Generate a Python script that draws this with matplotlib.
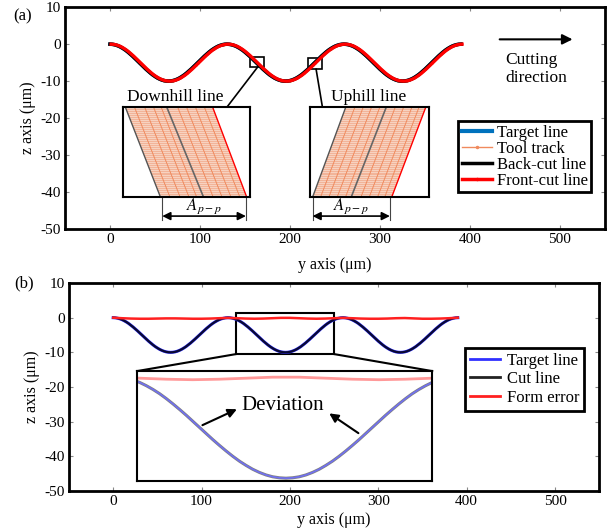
import numpy as np
import matplotlib.pyplot as plt
from matplotlib.patches import Rectangle, Polygon
from matplotlib.lines import Line2D

plt.rcParams['font.family'] = ['Liberation Serif', 'DejaVu Serif']
plt.rcParams['mathtext.fontset'] = 'stix'
plt.rcParams['axes.unicode_minus'] = False

# profile: z (um) every 2.5 um over half a period (0..65 um)
half_period = [0.0, -0.04, -0.15, -0.33, -0.57, -0.89, -1.26, -1.68, -2.16,
               -2.68, -3.23, -3.80, -4.40, -5.0, -5.60, -6.20, -6.77, -7.32,
               -7.84, -8.32, -8.74, -9.12, -9.43, -9.68, -9.86, -9.96, -10.0]
period = half_period + half_period[-2::-1]
profile_z = np.array(period + period[1:] + period[1:])
profile_y = np.arange(len(profile_z)) * 2.5
front_shift = 1.2   # front-cut line sits slightly ahead of the back-cut line

# form error in (b), every 10 um
form_y = np.arange(0, 400, 10)
form_err = [0.0, -0.15, -0.25, -0.3, -0.3, -0.25, -0.2, -0.2, -0.25, -0.3,
            -0.3, -0.25, -0.15, -0.05, -0.15, -0.25, -0.3, -0.25, -0.15, -0.05,
            -0.05, -0.15, -0.25, -0.3, -0.25, -0.15, -0.05, -0.15, -0.25, -0.3,
            -0.3, -0.25, -0.15, -0.1, -0.2, -0.3, -0.3, -0.25, -0.15, 0.0]

legend_a = ['Target line', 'Tool track', 'Back-cut line', 'Front-cut line']
legend_b = ['Target line', 'Cut line', 'Form error']
yticks = [-50, -40, -30, -20, -10, 0, 10]
xticks = [0, 100, 200, 300, 400, 500]

# schematic insets of (a): top/bottom x fraction of each slanted line
down_edges = [(0.018, 0.295), (0.344, 0.634), (0.705, 0.974)]
down_tracks = [0.09, 0.17, 0.24, 0.30, 0.43, 0.50, 0.57, 0.64]
up_edges = [(0.303, 0.023), (0.644, 0.348), (0.977, 0.689)]
up_tracks = [0.38, 0.45, 0.52, 0.59, 0.72, 0.79, 0.86, 0.92]


def style(ax, pad):
    ax.set_xlim(-50, 550)
    ax.set_ylim(-50, 10)
    ax.set_xticks(xticks)
    ax.set_yticks(yticks)
    ax.tick_params(direction='in', top=True, right=True, length=3,
                   width=0.8, color='#888888', labelsize=11, pad=3)
    for s in ax.spines.values():
        s.set_linewidth(2)
    ax.set_xlabel('y axis (μm)', fontsize=11.5, labelpad=pad)
    ax.set_ylabel('z axis (μm)', fontsize=11.5, labelpad=3)


def slant_inset(ax, box, edges, tracks, shift):
    ins = ax.inset_axes(box, transform=ax.transData)
    ins.set_xlim(0, 1)
    ins.set_ylim(0, 1)
    ins.set_xticks([])
    ins.set_yticks([])
    for s in ins.spines.values():
        s.set_linewidth(1.5)
    (l0, l1), (m0, m1), (r0, r1) = edges
    poly = Polygon([(l0, 1), (r0, 1), (r1, 0), (l1, 0)], closed=True,
                   facecolor='#f7d2c0', edgecolor='none')
    ins.add_patch(poly)
    hl = ins.hlines(np.arange(0.01, 1, 0.022), 0, 1, color='#f0a888', lw=0.5)
    hl.set_clip_path(poly)
    for t in tracks:
        ins.plot([t, t + shift], [1, 0], color='#f08a5d', lw=0.7)
    ins.plot([l0, l1], [1, 0], color='#555555', lw=1)
    ins.plot([m0, m1], [1, 0], color='#666666', lw=1.2)
    ins.plot([r0, r1], [1, 0], color='red', lw=1)
    return ins


fig = plt.figure(figsize=(6.08, 5.32), dpi=100)
ax1 = fig.add_axes([0.107, 0.5695, 0.888, 0.417])
ax2 = fig.add_axes([0.1135, 0.077, 0.872, 0.391])

# ---- (a)
style(ax1, 8)
ax1.plot(profile_y, profile_z, color='#0072BD', lw=2.5)
ax1.plot(profile_y, profile_z, color='#f08a5d', lw=0.8, marker='.', ms=1.5)
ax1.plot(profile_y, profile_z, color='black', lw=2.6)
ax1.plot(profile_y + front_shift, profile_z, color='red', lw=2.4)

ax1.add_patch(Rectangle((156, -6.2), 15, 2.7, fill=False, ec='k', lw=1.2))
ax1.add_patch(Rectangle((220, -6.8), 16, 3.0, fill=False, ec='k', lw=1.2))
ax1.plot([164, 130], [-6.2, -17], color='k', lw=1.2)
ax1.plot([229, 236], [-6.8, -17], color='k', lw=1.2)

slant_inset(ax1, [14.4, -41.4, 141.2, 24.4], down_edges, down_tracks, 0.28)
slant_inset(ax1, [222, -41.4, 132, 24.4], up_edges, up_tracks, -0.29)
ax1.text(72, -14.3, 'Downhill line', ha='center', va='center', fontsize=12.5)
ax1.text(287, -14.3, 'Uphill line', ha='center', va='center', fontsize=12.5)

for x0, x1 in [(58, 151), (225, 311)]:
    ax1.plot([x0, x0], [-41.4, -47.5], color='#444444', lw=0.8)
    ax1.plot([x1, x1], [-41.4, -47.5], color='#444444', lw=0.8)
    ax1.annotate('', xy=(x0, -46.5), xytext=(x1, -46.5),
                 arrowprops=dict(arrowstyle='<|-|>', color='k', lw=1.2,
                                 shrinkA=0, shrinkB=0, mutation_scale=12))
    ax1.text((x0 + x1) / 2, -43.8, '$A_{p-p}$', ha='center', va='center',
             fontsize=12)

ax1.annotate('', xy=(514, 1.3), xytext=(433, 1.3),
             arrowprops=dict(arrowstyle='-|>', color='k', lw=1.5,
                             shrinkA=0, shrinkB=0, mutation_scale=15))
ax1.text(439, -6.7, 'Cutting\ndirection', ha='left', va='center',
         fontsize=12.5, linespacing=1.1)

h_a = [Line2D([], [], color='#0072BD', lw=3),
       Line2D([], [], color='#f08a5d', lw=1, marker='.', ms=3),
       Line2D([], [], color='black', lw=2.5),
       Line2D([], [], color='red', lw=2.5, marker='.', ms=3)]
leg = ax1.legend(h_a, legend_a, loc='upper right', bbox_to_anchor=(0.974, 0.486),
                 fancybox=False, edgecolor='k', framealpha=1, fontsize=12,
                 borderpad=0.2, labelspacing=0.0, handlelength=1.8,
                 handletextpad=0.3, borderaxespad=0)
leg.get_frame().set_linewidth(2)

# ---- (b)
style(ax2, 3)
ax2.plot(profile_y, profile_z, color='#3030ff', lw=2.2)
ax2.plot(profile_y, profile_z, color='black', lw=1.6, alpha=0.8)
ax2.plot(form_y, form_err, color='#ff2020', lw=1.8)

ax2.add_patch(Rectangle((139, -10.5), 111, 11.9, fill=False, ec='k', lw=1.5))
ax2.plot([139, 27], [-10.5, -15.4], color='k', lw=1.5)
ax2.plot([250, 361], [-10.5, -15.4], color='k', lw=1.5)

ins = ax2.inset_axes([27, -47, 334, 31.6], transform=ax2.transData)
ins.set_xlim(139, 250)
ins.set_ylim(-10.24, 0.55)
ins.set_xticks([])
ins.set_yticks([])
for s in ins.spines.values():
    s.set_linewidth(1.5)
ins.plot(profile_y, profile_z, color='#808080', lw=2.2)
ins.plot(profile_y, profile_z, color='#7070f0', lw=1.2)
ins.plot(form_y, form_err, color='#ff8080', lw=2, alpha=0.8)

ax2.text(192, -25.4, 'Deviation', ha='center', va='center', fontsize=15,
         zorder=10)
ax2.annotate('', xy=(140, -26.4), xytext=(101, -31), zorder=10,
             arrowprops=dict(arrowstyle='-|>', color='k', lw=1.5,
                             shrinkA=0, shrinkB=0, mutation_scale=13))
ax2.annotate('', xy=(244.5, -27.6), xytext=(277.5, -33.3), zorder=10,
             arrowprops=dict(arrowstyle='-|>', color='k', lw=1.5,
                             shrinkA=0, shrinkB=0, mutation_scale=13))

h_b = [Line2D([], [], color='#3030ff', lw=2),
       Line2D([], [], color='#222222', lw=2),
       Line2D([], [], color='#ff2020', lw=2)]
leg2 = ax2.legend(h_b, legend_b, loc='upper right', bbox_to_anchor=(0.972, 0.69),
                  fancybox=False, edgecolor='k', framealpha=1, fontsize=12,
                  borderpad=0.3, labelspacing=0.15, handlelength=1.8,
                  handletextpad=0.4, borderaxespad=0)
leg2.get_frame().set_linewidth(2)

fig.text(0.022, 0.985, '(a)', fontsize=12, va='top')
fig.text(0.024, 0.483, '(b)', fontsize=12, va='top')

fig.savefig('out.png', dpi=100)
